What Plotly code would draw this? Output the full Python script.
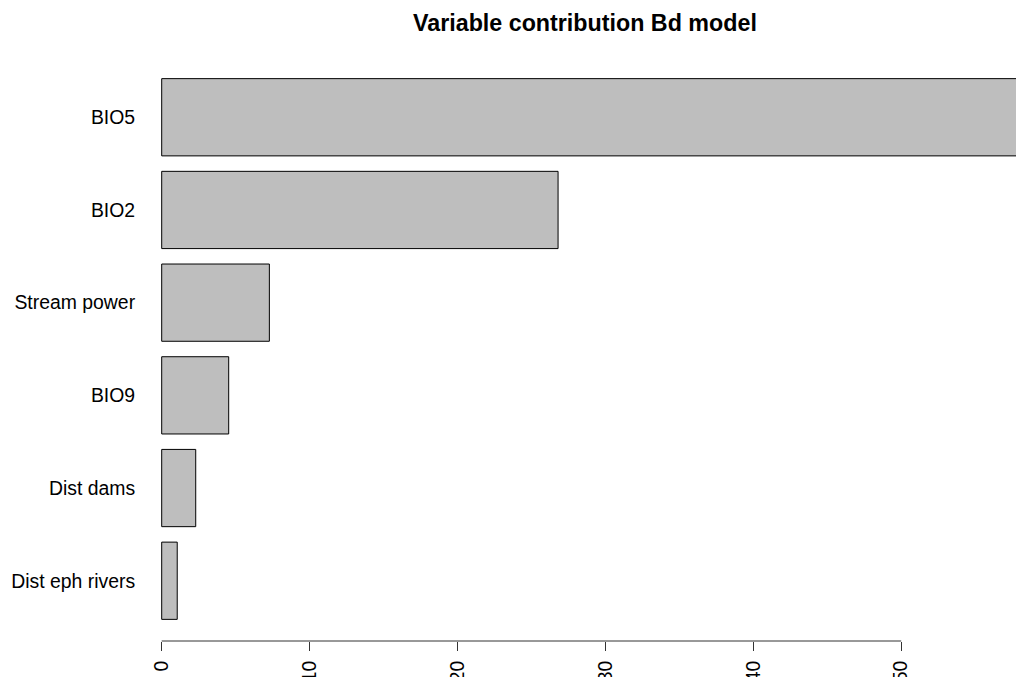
import plotly.graph_objects as go

# Data (bottom to top, as in the reference)
variables = ["Dist eph rivers", "Dist dams", "BIO9", "Stream power", "BIO2", "BIO5"]
contribution = [1.05, 2.30, 4.53, 7.28, 26.8, 58.04]
x_ticks = [0, 10, 20, 30, 40, 50]
title_text = "Variable contribution Bd model"

W, H = 1016, 677
ml, mr, mt, mb = 150, 0, 57.4, 36.3
px_per_unit = 14.79
x0_px = 161.7
x_left = -(x0_px - ml) / px_per_unit
x_right = (W - mr - x0_px) / px_per_unit

font_family = "Liberation Sans, Arial, Helvetica, sans-serif"
base = 19.4

fig = go.Figure()
fig.add_trace(go.Bar(
    x=contribution,
    y=variables,
    orientation="h",
    marker=dict(color="#BEBEBE", line=dict(color="#000000", width=1)),
    width=1 / 1.2,
    hoverinfo="x+y",
))

fig.update_layout(
    width=W, height=H,
    margin=dict(l=ml, r=mr, t=mt, b=mb, pad=0, autoexpand=False),
    paper_bgcolor="white", plot_bgcolor="white",
    showlegend=False,
    font=dict(family=font_family, size=base, color="#000000"),
    xaxis=dict(
        range=[x_left, x_right], automargin=False,
        tickmode="array", tickvals=x_ticks, ticktext=[str(v) for v in x_ticks],
        ticks="outside", ticklen=9, tickwidth=1, tickcolor="#333333",
        tickangle=-90, ticklabelstandoff=2,
        showgrid=False, zeroline=False, showline=False,
        tickfont=dict(size=base, family=font_family),
    ),
    yaxis=dict(
        type="category", automargin=False,
        categoryorder="array", categoryarray=variables,
        range=[-0.65, 5.65],
        ticks="outside", ticklen=10, tickcolor="rgba(0,0,0,0)",
        showgrid=False, zeroline=False, showline=False,
        tickfont=dict(size=base, family=font_family),
    ),
    annotations=[dict(
        text="<b>" + title_text + "</b>",
        x=(585 - ml) / (W - ml - mr), y=(H - 23 - mb) / (H - mt - mb),
        xref="paper", yref="paper",
        showarrow=False, font=dict(size=base * 1.2, family=font_family),
        xanchor="center", yanchor="middle",
    )],
)

# axis line from 0 to 50
fig.add_shape(type="line", xref="x", yref="y domain",
              x0=x_ticks[0], x1=x_ticks[-1], y0=0, y1=0,
              line=dict(color="#333333", width=1))

fig.write_html("out.html",
               config={"displayModeBar": False},
               post_script="document.body.style.margin='0';document.body.style.overflow='hidden';")
